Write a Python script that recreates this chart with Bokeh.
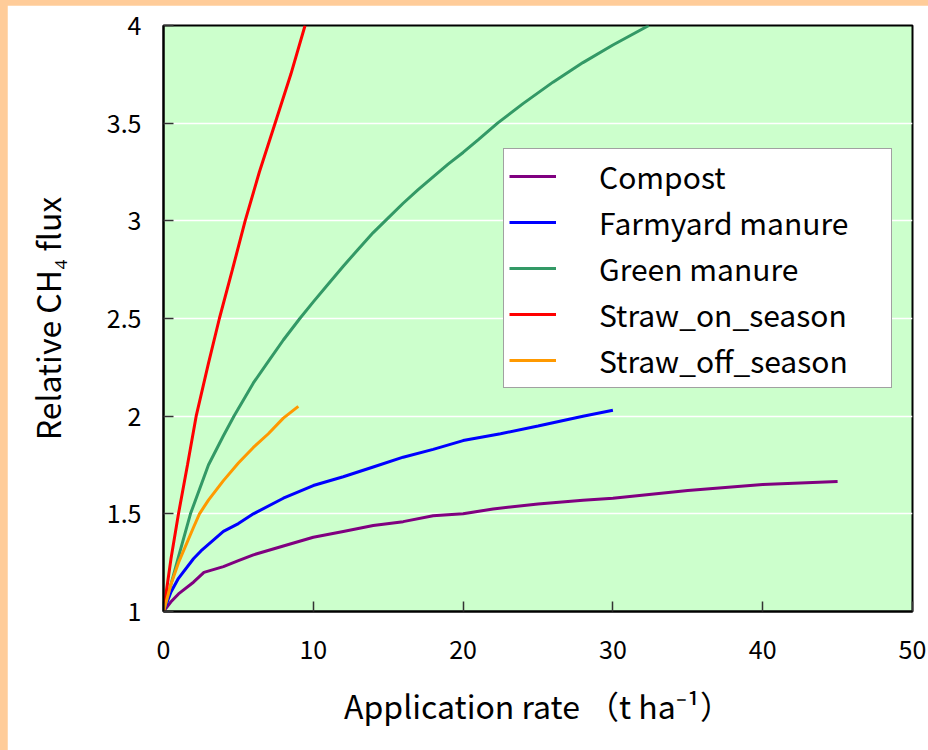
from bokeh.plotting import figure
from bokeh.models import Range1d, Legend, LegendItem, FixedTicker
from bokeh.layouts import column
from bokeh.embed import file_html
from bokeh.resources import INLINE

# ---- data ----
compost_x = [0, 0.5, 1, 2, 2.7, 4, 5, 6, 8, 10, 12, 14, 16, 18, 20, 22, 25, 28, 30, 35, 40, 45]
compost_y = [1, 1.05, 1.09, 1.15, 1.2, 1.23, 1.26, 1.29, 1.335, 1.38, 1.41, 1.44, 1.46, 1.49, 1.5, 1.525, 1.55, 1.57, 1.58, 1.62, 1.65, 1.665]

farmyard_x = [0, 0.5, 1, 2, 2.5, 4, 5, 6, 8, 10, 12, 14, 16, 18, 20, 22.5, 25, 28, 30]
farmyard_y = [1, 1.1, 1.17, 1.27, 1.31, 1.41, 1.45, 1.5, 1.58, 1.645, 1.69, 1.74, 1.79, 1.83, 1.875, 1.91, 1.95, 2.0, 2.03]

green_x = [0, 1, 1.8, 3, 4, 4.7, 6, 7, 8, 9.1, 10, 11, 12, 13, 14, 14.8, 16, 17, 18, 19, 20, 21, 22.3, 24, 26, 28, 30, 32.4]
green_y = [1, 1.28, 1.5, 1.75, 1.9, 2.0, 2.17, 2.28, 2.39, 2.5, 2.585, 2.677, 2.767, 2.855, 2.94, 3.0, 3.09, 3.16, 3.225, 3.29, 3.35, 3.415, 3.5, 3.6, 3.71, 3.81, 3.9, 4.0]

straw_on_x = [0, 0.5, 1, 1.6, 2.18, 3, 3.73, 4.6, 5.45, 6.4, 7.45, 8.5, 9.45]
straw_on_y = [1, 1.27, 1.5, 1.75, 2.0, 2.27, 2.5, 2.75, 3.0, 3.25, 3.5, 3.75, 4.0]

straw_off_x = [0, 0.5, 1, 2, 2.4, 3, 4, 5, 6, 7, 8, 9]
straw_off_y = [1, 1.14, 1.25, 1.43, 1.5, 1.57, 1.67, 1.76, 1.84, 1.91, 1.99, 2.05]

series_names = ["Compost", "Farmyard manure", "Green manure", "Straw_on_season", "Straw_off_season"]
series_colors = ["#800080", "#0000FF", "#339966", "#FF0000", "#FF9900"]

x_ticks = [0, 10, 20, 30, 40, 50]
y_ticks = [1, 1.5, 2, 2.5, 3, 3.5, 4]
y_tick_labels = ["1", "1.5", "2", "2.5", "3", "3.5", "4"]

FONT = "Noto Sans CJK JP"

p = figure(width=921, height=745, x_range=Range1d(0, 50), y_range=Range1d(1, 4),
           output_backend="svg", toolbar_location=None,
           min_border_left=156, min_border_right=16, min_border_top=20, min_border_bottom=139,
           background_fill_color="#CCFFCC", border_fill_color="white")
p.margin = (5, 0, 0, 7)

renderers = []
for xs, ys, c in zip([compost_x, farmyard_x, green_x, straw_on_x, straw_off_x],
                     [compost_y, farmyard_y, green_y, straw_on_y, straw_off_y],
                     series_colors):
    renderers.append(p.line(xs, ys, line_color=c, line_width=3))

p.xgrid.visible = False
p.ygrid.grid_line_color = "white"
p.ygrid.grid_line_width = 1.5

p.xaxis.ticker = FixedTicker(ticks=x_ticks)
p.yaxis.ticker = FixedTicker(ticks=y_ticks)
p.yaxis.major_label_overrides = {t: l for t, l in zip(y_ticks, y_tick_labels)}

for ax in (p.xaxis[0], p.yaxis[0]):
    ax.axis_line_color = "black"
    ax.axis_line_width = 2
    ax.major_tick_in = 10
    ax.major_tick_out = 0
    ax.major_tick_line_color = "#333333"
    ax.major_tick_line_width = 1.5
    ax.minor_tick_line_color = None
    ax.major_label_text_font = FONT
    ax.major_label_text_font_size = "25px"
    ax.major_label_text_color = "black"
    ax.axis_label_text_font = FONT
    ax.axis_label_text_font_size = "32px"
    ax.axis_label_text_font_style = "normal"
    ax.axis_label_text_color = "black"

p.xaxis.major_label_standoff = 28
p.yaxis.major_label_standoff = 22
p.xaxis.axis_label = "Application rate （t ha⁻¹）"
p.yaxis.axis_label = "Relative CH₄ flux"
p.xaxis.axis_label_standoff = 20
p.yaxis.axis_label_standoff = 34

p.outline_line_color = "black"
p.outline_line_width = 2

legend = Legend(items=[LegendItem(label=n, renderers=[r]) for n, r in zip(series_names, renderers)],
                location=(340, 223))
legend.label_text_font = FONT
legend.label_text_font_size = "30px"
legend.label_text_color = "black"
legend.glyph_width = 47
legend.glyph_height = 36
legend.label_height = 36
legend.spacing = 2
legend.padding = 5
legend.label_standoff = 43
legend.label_width = 287
legend.border_line_color = "#444444"
legend.border_line_width = 1.5
legend.background_fill_color = "white"
legend.background_fill_alpha = 1
p.add_layout(legend)

layout = column(p, styles={"background-color": "#FFCC99"})
open("out.html", "w").write(file_html(layout, INLINE))
